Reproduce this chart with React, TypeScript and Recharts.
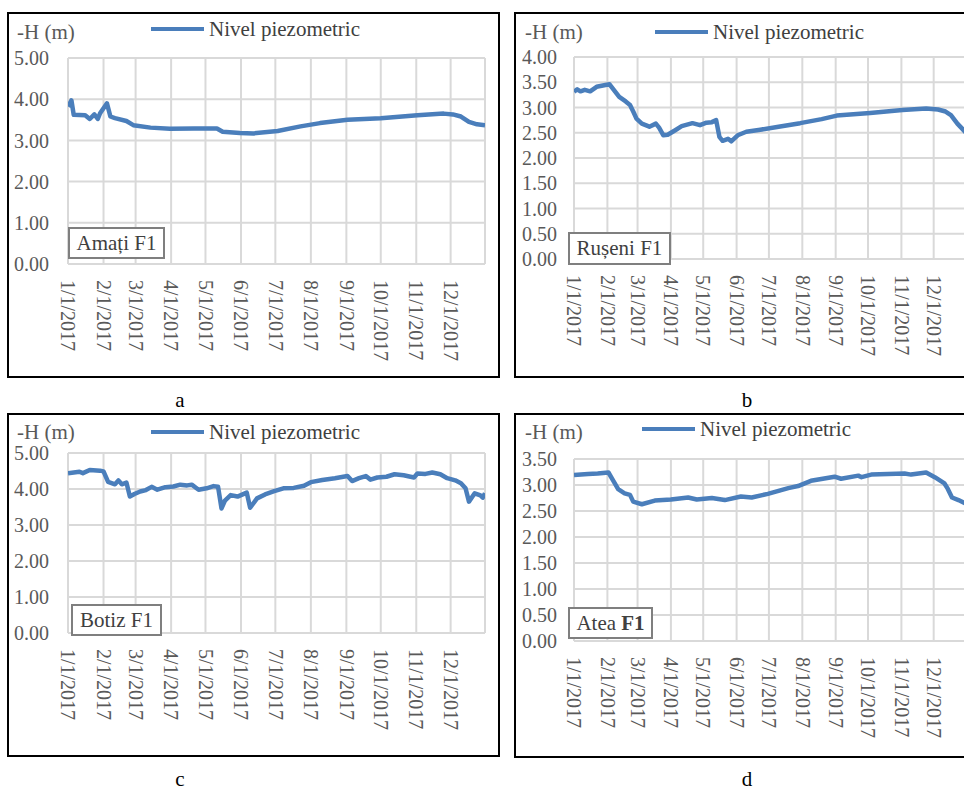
import React from 'react';
import { LineChart, Line, XAxis, YAxis, CartesianGrid, Legend, ReferenceLine } from 'recharts';

const FONT = '"Liberation Serif", "Times New Roman", serif';
const LINE_COLOR = '#4a7ebb';
const GRID = '#d9d9d9';
const TICK = '#595959';

const seriesName = 'Nivel piezometric';
const axisTitle = '-H (m)';

const monthStartDays = [0, 31, 59, 90, 120, 151, 181, 212, 243, 273, 304, 334];
const monthLabels = ['1/1/2017', '2/1/2017', '3/1/2017', '4/1/2017', '5/1/2017', '6/1/2017', '7/1/2017', '8/1/2017', '9/1/2017', '10/1/2017', '11/1/2017', '12/1/2017'];
const lastDay = 364;

const amatiDays = [0, 3, 5, 15, 19, 23, 26, 28, 34, 37, 41, 51, 57, 72, 89, 110, 130, 135, 150, 162, 183, 203, 220, 244, 273, 305, 328, 336, 343, 350, 357, 364];
const amatiLevels = [3.82, 3.97, 3.62, 3.61, 3.52, 3.63, 3.52, 3.66, 3.9, 3.58, 3.54, 3.47, 3.37, 3.31, 3.28, 3.29, 3.29, 3.21, 3.18, 3.17, 3.23, 3.34, 3.42, 3.5, 3.54, 3.61, 3.65, 3.63, 3.58, 3.45, 3.39, 3.37];

const ruseniDays = [0, 3, 6, 10, 15, 21, 28, 33, 42, 48, 52, 55, 58, 63, 70, 76, 79, 83, 87, 94, 100, 110, 117, 123, 128, 132, 135, 138, 143, 146, 152, 160, 173, 190, 210, 230, 244, 275, 305, 327, 338, 345, 350, 356, 364];
const ruseniLevels = [3.31, 3.36, 3.32, 3.35, 3.32, 3.41, 3.44, 3.46, 3.21, 3.12, 3.05, 2.92, 2.78, 2.68, 2.62, 2.68, 2.6, 2.45, 2.46, 2.55, 2.63, 2.69, 2.65, 2.7, 2.71, 2.75, 2.42, 2.34, 2.38, 2.33, 2.45, 2.52, 2.56, 2.62, 2.69, 2.77, 2.84, 2.89, 2.95, 2.98, 2.96, 2.92, 2.85, 2.68, 2.5];

const botizDays = [0, 5, 10, 13, 19, 28, 31, 35, 41, 44, 47, 51, 54, 58, 63, 68, 73, 78, 85, 92, 98, 104, 108, 114, 121, 127, 131, 134, 137, 142, 148, 156, 159, 165, 172, 180, 188, 197, 206, 212, 222, 233, 244, 248, 254, 260, 264, 270, 278, 285, 293, 302, 305, 312, 318, 325, 331, 338, 343, 347, 350, 355, 360, 362, 364];
const botizLevels = [4.44, 4.46, 4.48, 4.44, 4.53, 4.51, 4.49, 4.2, 4.13, 4.24, 4.13, 4.18, 3.79, 3.86, 3.93, 3.97, 4.06, 3.98, 4.05, 4.07, 4.12, 4.1, 4.12, 3.98, 4.02, 4.08, 4.06, 3.46, 3.68, 3.83, 3.79, 3.9, 3.48, 3.74, 3.85, 3.94, 4.02, 4.03, 4.09, 4.19, 4.25, 4.3, 4.36, 4.22, 4.3, 4.36, 4.26, 4.32, 4.34, 4.41, 4.38, 4.32, 4.43, 4.42, 4.46, 4.41, 4.3, 4.24, 4.16, 4.02, 3.65, 3.88, 3.82, 3.76, 3.88];

const ateaDays = [0, 13, 22, 32, 36, 41, 47, 52, 55, 63, 75, 90, 106, 114, 128, 140, 155, 165, 180, 199, 208, 220, 242, 248, 264, 267, 276, 307, 313, 327, 335, 344, 347, 351, 357, 364];
const ateaLevels = [3.19, 3.21, 3.22, 3.24, 3.1, 2.92, 2.84, 2.81, 2.68, 2.63, 2.7, 2.72, 2.76, 2.72, 2.75, 2.71, 2.78, 2.76, 2.83, 2.94, 2.98, 3.08, 3.16, 3.12, 3.18, 3.15, 3.2, 3.22, 3.2, 3.24, 3.15, 3.03, 2.93, 2.76, 2.71, 2.64];

const ticksFive = [0, 1, 2, 3, 4, 5];
const ticksFour = [0, 0.5, 1, 1.5, 2, 2.5, 3, 3.5, 4];
const ticksThreeHalf = [0, 0.5, 1, 1.5, 2, 2.5, 3, 3.5];

const toRows = (days: number[], levels: number[]) => days.map((d, i) => ({ day: d, level: levels[i] }));

const DateTick = (props: any) => {
  const { x, y, payload } = props;
  const idx = monthStartDays.indexOf(payload.value);
  if (idx < 0) return null;
  return (
    <text x={x} y={y} transform={`rotate(90, ${x}, ${y})`} textAnchor="start" dy="0.34em" fill={TICK} fontSize={20} fontFamily={FONT}>
      {monthLabels[idx]}
    </text>
  );
};

const renderLegend = (props: any) => {
  const item = props.payload && props.payload[0];
  return (
    <div style={{ display: 'flex', alignItems: 'center', height: 24, whiteSpace: 'nowrap' }}>
      <span style={{ display: 'inline-block', width: 53, height: 4, background: LINE_COLOR }} />
      <span style={{ marginLeft: 5, fontSize: 21, color: '#404040', fontFamily: FONT, lineHeight: '24px' }}>{item ? item.value : seriesName}</span>
    </div>
  );
};

type PanelProps = {
  rows: { day: number; level: number }[];
  yMax: number;
  yTicks: number[];
  left: number;
  top: number;
  width: number;
  height: number;
  marginTop: number;
  yWidth: number;
  xHeight: number;
  tickGap: number;
  legendLeft: number;
  legendTop: number;
  titleY: number;
};

const Panel = (p: PanelProps) => (
  <div style={{ position: 'absolute', left: p.left, top: p.top }}>
    <LineChart width={p.width} height={p.height} data={p.rows} margin={{ top: p.marginTop, right: 13, bottom: 0, left: 0 }}>
      <CartesianGrid stroke={GRID} strokeWidth={2} />
      <XAxis
        dataKey="day"
        type="number"
        domain={[0, lastDay]}
        ticks={monthStartDays}
        tick={<DateTick />}
        interval={0}
        height={p.xHeight}
        tickSize={0}
        tickMargin={16}
        tickLine={false}
        axisLine={{ stroke: GRID, strokeWidth: 2 }}
        allowDataOverflow
      />
      <YAxis
        type="number"
        domain={[0, p.yMax]}
        ticks={p.yTicks}
        interval={0}
        width={p.yWidth}
        tickFormatter={(v: number) => v.toFixed(2)}
        tick={{ fill: TICK, fontSize: 20, fontFamily: FONT }}
        tickSize={0}
        tickMargin={p.tickGap}
        tickLine={false}
        axisLine={false}
        label={{
          content: () => (
            <text x={9} y={p.titleY} dy="0.34em" fill={TICK} fontSize={21} fontFamily={FONT}>
              {axisTitle}
            </text>
          ),
        }}
      />
      <ReferenceLine x={lastDay} stroke={GRID} strokeWidth={2} />
      <Legend
        layout="horizontal"
        verticalAlign="middle"
        align="center"
        content={renderLegend}
        wrapperStyle={{ top: p.legendTop, left: p.legendLeft, width: 'auto' }}
      />
      <Line
        type="linear"
        dataKey="level"
        name={seriesName}
        stroke={LINE_COLOR}
        strokeWidth={4.5}
        dot={false}
        activeDot={false}
        isAnimationActive={false}
        strokeLinejoin="round"
      />
    </LineChart>
  </div>
);

const frame = (left: number, top: number, width: number, height: number): React.CSSProperties => ({
  position: 'absolute',
  left,
  top,
  width,
  height,
  border: '2px solid #000',
  boxSizing: 'border-box',
});

const stationBox = (left: number, top: number, width: number, height: number): React.CSSProperties => ({
  position: 'absolute',
  left,
  top,
  width,
  height,
  border: '2px solid #7f7f7f',
  boxSizing: 'border-box',
  background: '#fff',
  display: 'flex',
  alignItems: 'center',
  justifyContent: 'center',
  fontSize: 21,
  color: '#404040',
  fontFamily: FONT,
  whiteSpace: 'nowrap',
});

const letter = (cx: number, top: number): React.CSSProperties => ({
  position: 'absolute',
  left: cx - 20,
  width: 40,
  top,
  textAlign: 'center',
  fontSize: 21,
  lineHeight: '21px',
  fontFamily: FONT,
  color: '#000',
});

export default function App() {
  return (
    <div style={{ position: 'absolute', left: 0, top: 0, width: 964, height: 790, overflow: 'hidden', background: '#fff', fontFamily: FONT }}>
      <div style={frame(7, 12, 493, 366)} />
      <div style={frame(514, 12, 520, 366)} />
      <div style={frame(7, 413, 493, 344)} />
      <div style={frame(514, 413, 520, 345)} />

      <Panel rows={toRows(amatiDays, amatiLevels)} yMax={5} yTicks={ticksFive} left={8} top={14} width={490} height={362} marginTop={44} yWidth={60} xHeight={112} tickGap={19} legendLeft={143} legendTop={3} titleY={18} />
      <Panel rows={toRows(ruseniDays, ruseniLevels)} yMax={4} yTicks={ticksFour} left={516} top={14} width={463} height={362} marginTop={43} yWidth={58} xHeight={117} tickGap={17} legendLeft={139} legendTop={6} titleY={18} />
      <Panel rows={toRows(botizDays, botizLevels)} yMax={5} yTicks={ticksFive} left={8} top={415} width={490} height={340} marginTop={38} yWidth={60} xHeight={122} tickGap={19} legendLeft={143} legendTop={5} titleY={17} />
      <Panel rows={toRows(ateaDays, ateaLevels)} yMax={3.5} yTicks={ticksThreeHalf} left={516} top={415} width={463} height={341} marginTop={44} yWidth={58} xHeight={115} tickGap={17} legendLeft={126} legendTop={2} titleY={17} />

      <div style={stationBox(68, 227, 97, 32)}>Amați F1</div>
      <div style={stationBox(568, 232, 103, 33)}>Rușeni F1</div>
      <div style={stationBox(71, 604, 91, 32)}>Botiz F1</div>
      <div style={stationBox(568, 607, 85, 32)}>
        <span>Atea&nbsp;</span>
        <span style={{ fontWeight: 'bold' }}>F1</span>
      </div>

      <div style={letter(180, 390)}>a</div>
      <div style={letter(747, 390)}>b</div>
      <div style={letter(180, 769)}>c</div>
      <div style={letter(747, 769)}>d</div>
    </div>
  );
}
